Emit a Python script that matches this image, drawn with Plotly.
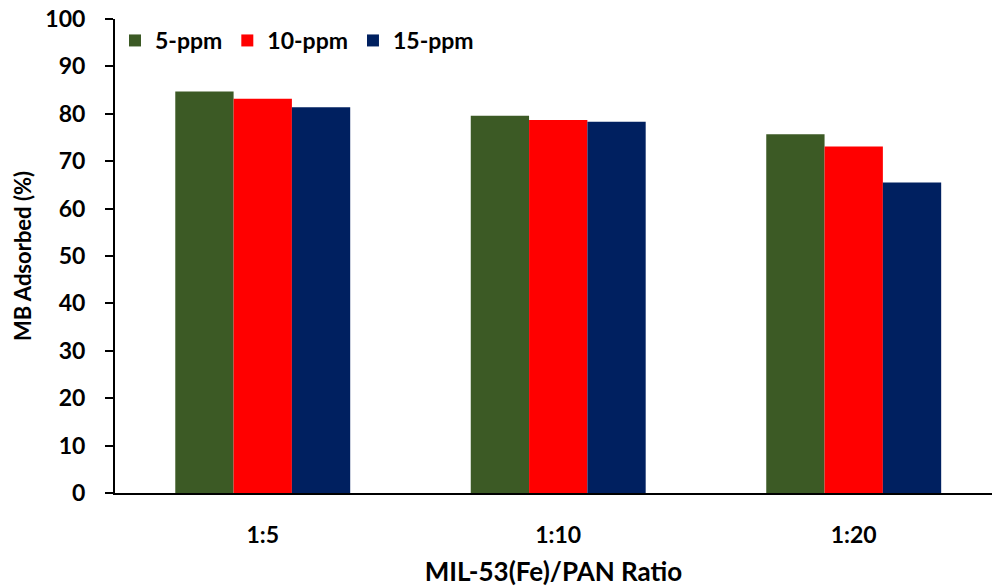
import plotly.graph_objects as go

categories = ["1:5", "1:10", "1:20"]
series_names = ["5-ppm", "10-ppm", "15-ppm"]
ppm5 = [84.7, 79.6, 75.7]
ppm10 = [83.2, 78.7, 73.1]
ppm15 = [81.4, 78.3, 65.5]
colors = ["#3C5A25", "#FF0000", "#002060"]

FONT = "Lato"
fig = go.Figure()
for name, vals, c in zip(series_names, [ppm5, ppm10, ppm15], colors):
    fig.add_trace(go.Bar(x=categories, y=vals, name=name, marker=dict(color=c, line=dict(width=0))))

fig.update_layout(
    width=992, height=587,
    margin=dict(l=115, r=0, t=19, b=94),
    paper_bgcolor="white", plot_bgcolor="white",
    barmode="group", bargap=0.408, bargroupgap=0,
    font=dict(family=FONT, size=23, color="black", weight="bold"),
    legend=dict(orientation="h", x=0.0, y=1.0, xanchor="left", yanchor="top",
                font=dict(size=23, family=FONT, weight="bold"), bgcolor="rgba(0,0,0,0)",
                itemwidth=30, traceorder="normal"),
    xaxis=dict(range=[-0.5, 2.468], showline=True, linecolor="black", linewidth=2,
               ticks="", showgrid=False, ticklabelstandoff=20,
               title=dict(text="MIL-53(Fe)/PAN Ratio", font=dict(size=26, family=FONT, weight="bold"), standoff=16),
               tickfont=dict(size=23, family=FONT, weight="bold")),
    yaxis=dict(range=[0, 100], dtick=10, showline=True, linecolor="black", linewidth=2,
               ticks="outside", ticklen=8, tickwidth=2, tickcolor="black", showgrid=False, zeroline=False,
               ticklabelstandoff=15,
               title=dict(text="MB Adsorbed (%)", font=dict(size=22, family=FONT, weight="bold"), standoff=8),
               tickfont=dict(size=23, family=FONT, weight="bold")),
)
fig.write_html("out.html")
